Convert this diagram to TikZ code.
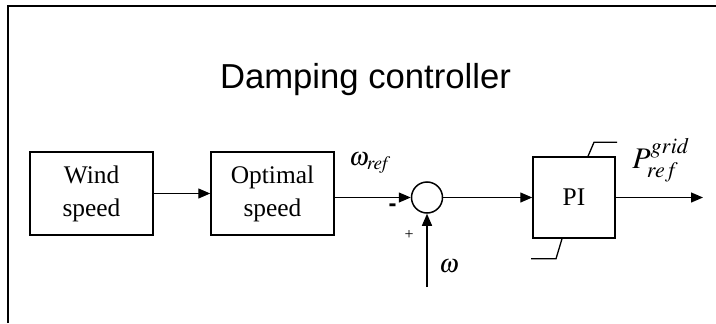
\documentclass[tikz,border=0pt]{standalone}
\usepackage{mathptmx}
\usepackage{fontspec}
\setmainfont{Liberation Serif}
\newfontfamily\titlefont{Liberation Sans}
\usetikzlibrary{arrows.meta}

\begin{document}
\begin{tikzpicture}[x=1bp,y=1bp,
  flow/.style={-{Triangle[length=12bp,width=10bp]}, line width=1.3bp},
  block/.style={draw, line width=1.5bp, minimum width=123bp, minimum height=83bp,
                align=center, inner sep=0pt,
                font=\fontsize{25.5}{33}\selectfont},
  sumpt/.style={draw, circle, line width=1.5bp, minimum size=31bp, inner sep=0pt},
  sig/.style={font=\fontsize{26}{28}\selectfont, inner sep=1pt}]

\useasboundingbox (0,0) rectangle (716,323);

% frame of the slide
\draw[line width=1.5bp] (8,0) |- (716,317);

\node[font=\titlefont\fontsize{34.8}{36}\selectfont, anchor=base] (title)
  at (365.5,235) {Damping controller};

% ------------------------------------------------------------------ blocks
\node[block] (wind) at (91.5,129.5) {Wind\\speed};
\node[block] (opt) at (272.5,129.5) {Optimal\\speed};
\node[sumpt] (sum) at (427,125.5) {};
\node[block, minimum width=82bp, minimum height=81bp] (pi) at (574,125.5) {PI};
\coordinate (out) at (703,125.5);
\coordinate (win) at (427,36);

% limiter marks on PI
\draw[line width=1.3bp] ([xshift=14bp]pi.north) -- ++(6,14) -- ++(23,0);
\draw[line width=1.3bp] ([xshift=-12bp]pi.south) -- ++(-6,-20) -- ++(-25,0);

% connectors
\draw[flow] (wind) -- (opt);
\draw[flow] (opt.east |- sum) -- (sum);
\draw[flow] (sum) -- (pi);
\draw[flow] (pi) -- (out);
\draw[flow] (win) -- (sum);

% signal labels
\node[sig] (wref) at (370,160) {$\omega_{\mathit{ref}}$};
\node[font=\titlefont\bfseries\fontsize{24}{24}\selectfont, inner sep=0pt] (minus)
  at (392.5,115) {-};
\node[font=\fontsize{16}{16}\selectfont, inner sep=0pt] (plus) at (409,88) {+};
\node[sig] (w) at (449,57) {$\omega$};
\node[font=\fontsize{30}{30}\selectfont] (pref) at (661,163) {$P_{ref}^{grid}$};
\end{tikzpicture}
\end{document}
